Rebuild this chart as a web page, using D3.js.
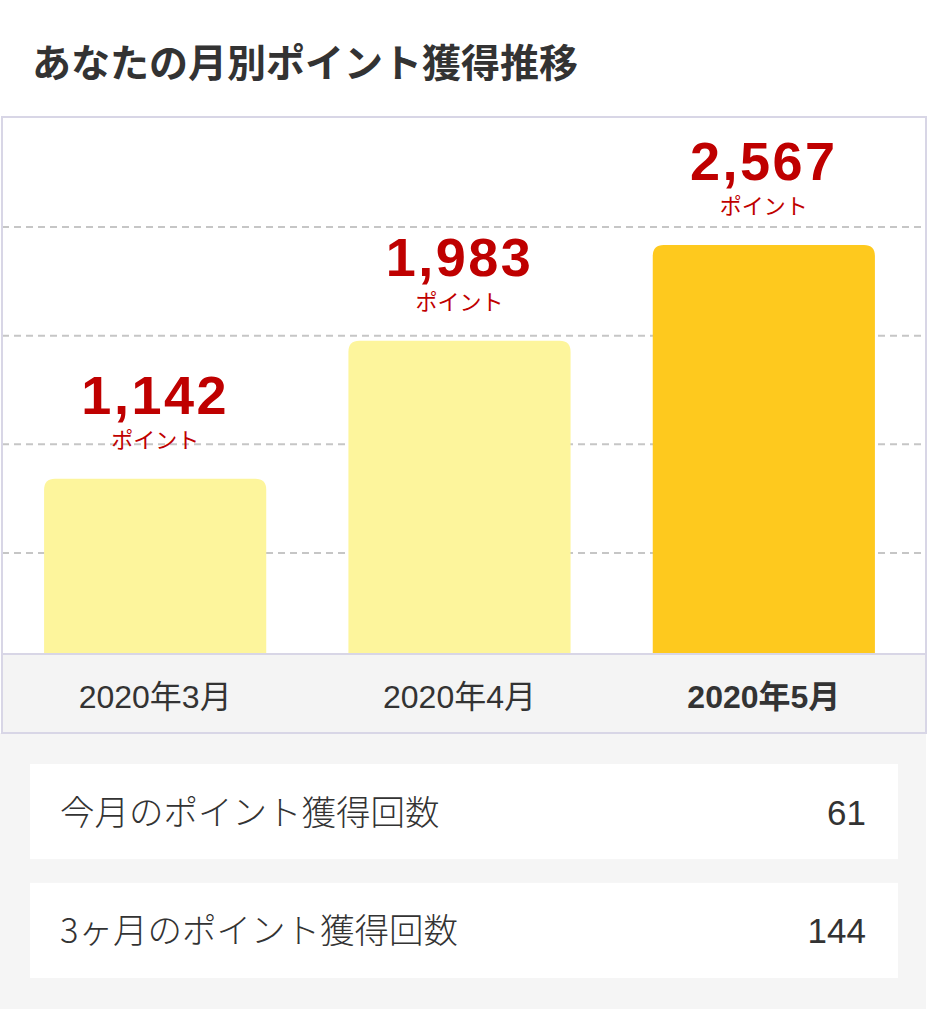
<!DOCTYPE html>
<html>
<head>
<meta charset="utf-8">
<title>あなたの月別ポイント獲得推移</title>
<script src="https://d3js.org/d3.v7.min.js"></script>
<style>
  body { margin: 0; background: #fff; }
  #chart { width: 929px; height: 1024px; }
  .title { font-family: "Noto Sans CJK JP", sans-serif; font-weight: 700; font-size: 39px; fill: #333; }
  .value { font-family: "Liberation Sans", Arial, sans-serif; font-weight: 700; font-size: 54px; fill: #bf0000; letter-spacing: 2.5px; }
  .unit { font-family: "Noto Sans CJK JP", sans-serif; font-size: 22px; fill: #bf0000; }
  .month { font-family: "Liberation Sans", "Noto Sans CJK JP", sans-serif; font-size: 32px; fill: #333; }
  .month.current { font-weight: 700; }
  .stat-label { font-family: "Noto Sans CJK JP", sans-serif; font-size: 34.5px; font-weight: 300; fill: #333; }
  .stat-value { font-family: "Liberation Sans", sans-serif; font-size: 35px; fill: #333; }
</style>
</head>
<body>
<div id="chart"></div>
<script>
// chart data
const months = ["2020年3月", "2020年4月", "2020年5月"];
const points = [1142, 1983, 2567];
const currentMonth = "2020年5月";
const unitLabel = "ポイント";

const statLabels = ["今月のポイント獲得回数", "3ヶ月のポイント獲得回数"];
const statValues = [61, 144];

const width = 929, height = 1024;

const svg = d3.select("#chart").append("svg")
    .attr("width", width)
    .attr("height", height);

svg.append("rect").attr("width", width).attr("height", height).attr("fill", "#fff");

// title
svg.append("text")
    .attr("class", "title")
    .attr("x", 32)
    .attr("y", 77)
    .text("あなたの月別ポイント獲得推移");

// frame geometry
const box = { left: 2, right: 926, top: 117, axisTop: 654, bottom: 733 };

// gray area below
svg.append("rect")
    .attr("x", 0).attr("y", box.bottom)
    .attr("width", box.right).attr("height", 1009 - box.bottom)
    .attr("fill", "#f5f5f5");

// scales
const x = d3.scaleBand()
    .domain(months)
    .range([3, 916])
    .paddingInner(0.27)
    .paddingOuter(0.135);

const y = d3.scaleLinear()
    .domain([0, d3.max(points)])
    .range([666, 245]);

// evenly spaced guide lines
const grid = d3.scaleLinear().domain([0, 5]).range([118.3, 661.7]);

svg.append("g")
    .selectAll("line")
    .data([1, 2, 3, 4])
    .join("line")
    .attr("x1", box.left)
    .attr("x2", box.right)
    .attr("y1", d => grid(d))
    .attr("y2", d => grid(d))
    .attr("stroke", "#c6c6c6")
    .attr("stroke-width", 2)
    .attr("stroke-dasharray", "7,5");

const data = months.map((m, i) => ({ month: m, value: points[i] }));

// bars with rounded top corners
const r = 11;
function barPath(d) {
  const x0 = x(d.month), x1 = x0 + x.bandwidth();
  const top = y(d.value), bot = y(0);
  return `M${x0},${bot}V${top + r}Q${x0},${top} ${x0 + r},${top}` +
         `H${x1 - r}Q${x1},${top} ${x1},${top + r}V${bot}Z`;
}

svg.append("g")
    .selectAll("path")
    .data(data)
    .join("path")
    .attr("d", barPath)
    .attr("fill", d => d.month === currentMonth ? "#fec91e" : "#fdf59c");

// value labels
const labels = svg.append("g");
labels.selectAll("text.value")
    .data(data)
    .join("text")
    .attr("class", "value")
    .attr("text-anchor", "middle")
    .attr("x", d => x(d.month) + x.bandwidth() / 2)
    .attr("y", d => y(d.value) - 65)
    .text(d => d3.format(",")(d.value));

labels.selectAll("text.unit")
    .data(data)
    .join("text")
    .attr("class", "unit")
    .attr("text-anchor", "middle")
    .attr("x", d => x(d.month) + x.bandwidth() / 2)
    .attr("y", d => y(d.value) - 31)
    .text(unitLabel);

// axis band
svg.append("rect")
    .attr("x", box.left).attr("y", box.axisTop)
    .attr("width", box.right - box.left).attr("height", box.bottom - box.axisTop)
    .attr("fill", "#f4f4f4");

svg.append("line")
    .attr("x1", box.left).attr("x2", box.right)
    .attr("y1", box.axisTop).attr("y2", box.axisTop)
    .attr("stroke", "#d8d6e6").attr("stroke-width", 2);

// frame
svg.append("rect")
    .attr("x", box.left).attr("y", box.top)
    .attr("width", box.right - box.left).attr("height", box.bottom - box.top)
    .attr("fill", "none")
    .attr("stroke", "#d8d6e6")
    .attr("stroke-width", 2);

// x axis labels
const xAxis = d3.axisBottom(x).tickSize(0).tickPadding(0);
const axisG = svg.append("g")
    .attr("transform", `translate(0,${box.axisTop})`)
    .call(xAxis);
axisG.select(".domain").remove();
axisG.selectAll(".tick text")
    .attr("class", d => d === currentMonth ? "month current" : "month")
    .attr("dy", null)
    .attr("y", 54)
    .attr("font-family", null)
    .attr("font-size", null)
    .attr("fill", null);
axisG.attr("font-family", null).attr("font-size", null);

// stat cards
const cardY = d3.scaleBand()
    .domain(statLabels)
    .range([764, 978])
    .paddingInner(0.2);

const cards = svg.append("g")
    .selectAll("g")
    .data(statLabels.map((l, i) => ({ label: l, value: statValues[i] })))
    .join("g")
    .attr("transform", d => `translate(30,${cardY(d.label)})`);

cards.append("rect")
    .attr("width", 868)
    .attr("height", cardY.bandwidth())
    .attr("fill", "#fff");

cards.append("text")
    .attr("class", "stat-label")
    .attr("x", 30)
    .attr("y", cardY.bandwidth() / 2 + 13)
    .text(d => d.label);

cards.append("text")
    .attr("class", "stat-value")
    .attr("text-anchor", "end")
    .attr("x", 836)
    .attr("y", cardY.bandwidth() / 2 + 13)
    .text(d => d.value);
</script>
</body>
</html>
